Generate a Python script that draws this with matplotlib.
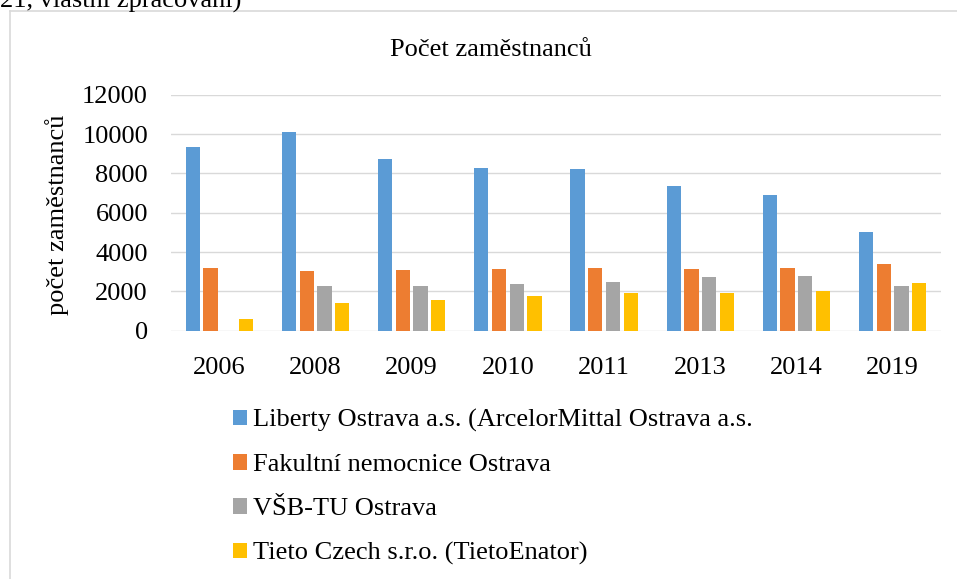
import numpy as np
import matplotlib.pyplot as plt
from matplotlib.lines import Line2D
from matplotlib.patches import Patch

plt.rcParams['font.family'] = ['Liberation Serif', 'DejaVu Serif']

years = ["2006", "2008", "2009", "2010", "2011", "2013", "2014", "2019"]
liberty = [9350, 10080, 8710, 8250, 8220, 7340, 6920, 5000]
fno = [3180, 3020, 3070, 3140, 3170, 3140, 3170, 3410]
vsb = [0, 2250, 2290, 2370, 2490, 2750, 2780, 2250]
tieto = [580, 1410, 1580, 1760, 1900, 1900, 2020, 2440]

series = [liberty, fno, vsb, tieto]
names = ["Liberty Ostrava a.s. (ArcelorMittal Ostrava a.s.",
         "Fakultní nemocnice Ostrava",
         "VŠB-TU Ostrava",
         "Tieto Czech s.r.o. (TietoEnator)"]
colors = ["#5B9BD5", "#ED7D31", "#A5A5A5", "#FFC000"]

W, H = 957, 579
fig = plt.figure(figsize=(W / 100, H / 100), dpi=100)
ax = fig.add_axes([171.3 / W, (H - 330.7) / H, 769.4 / W, 236 / H])

fs = 19
x = np.arange(len(years))
pitch = 0.184
bw = 0.148
for i, (vals, c) in enumerate(zip(series, colors)):
    ax.bar(x + (i - 1.5) * pitch, vals, width=bw, color=c, zorder=3)

ax.set_xlim(-0.5, len(years) - 0.5)
ax.set_ylim(0, 12000)
ax.set_yticks(np.arange(0, 12001, 2000))
ax.set_xticks(x)
ax.set_xticklabels(years)
ax.yaxis.grid(True, color="#d9d9d9", linewidth=1.0, zorder=0)
ax.set_axisbelow(True)
for s in ax.spines.values():
    s.set_visible(False)
ax.tick_params(axis="both", length=0, labelsize=fs)
ax.tick_params(axis="y", pad=16.8)
ax.tick_params(axis="x", pad=18.8)

ax.set_ylabel("počet zaměstnanců", fontsize=fs, va="center")
ax.yaxis.set_label_coords((57.5 - 171.3) / 769.4, 0.49)

fig.text(491 / W, 1 - 56 / H, "Počet zaměstnanců", fontsize=fs,
         ha="center", va="baseline")

# chart frame (only top and left edges are visible in the crop)
fig.add_artist(Line2D([10 / W, 10 / W], [0, 1 - 11 / H], color="#d9d9d9",
                      linewidth=1.2, transform=fig.transFigure))
fig.add_artist(Line2D([10 / W, 1], [1 - 11 / H, 1 - 11 / H], color="#d9d9d9",
                      linewidth=1.2, transform=fig.transFigure))

# caption text cut off at the top of the screenshot
fig.text(0, 1 - 7.5 / H, "21, vlastní zpracování)", fontsize=fs,
         ha="left", va="baseline")

handles = [Patch(facecolor=c, edgecolor="none") for c in colors]
fig.legend(handles, names, loc="upper left",
           bbox_to_anchor=(232.7 / W, 1 - 409 / H), frameon=False,
           fontsize=fs, handlelength=0.53, handleheight=0.53,
           handletextpad=0.23, labelspacing=0.83, borderpad=0,
           borderaxespad=0)

fig.savefig("out.png", dpi=100)
